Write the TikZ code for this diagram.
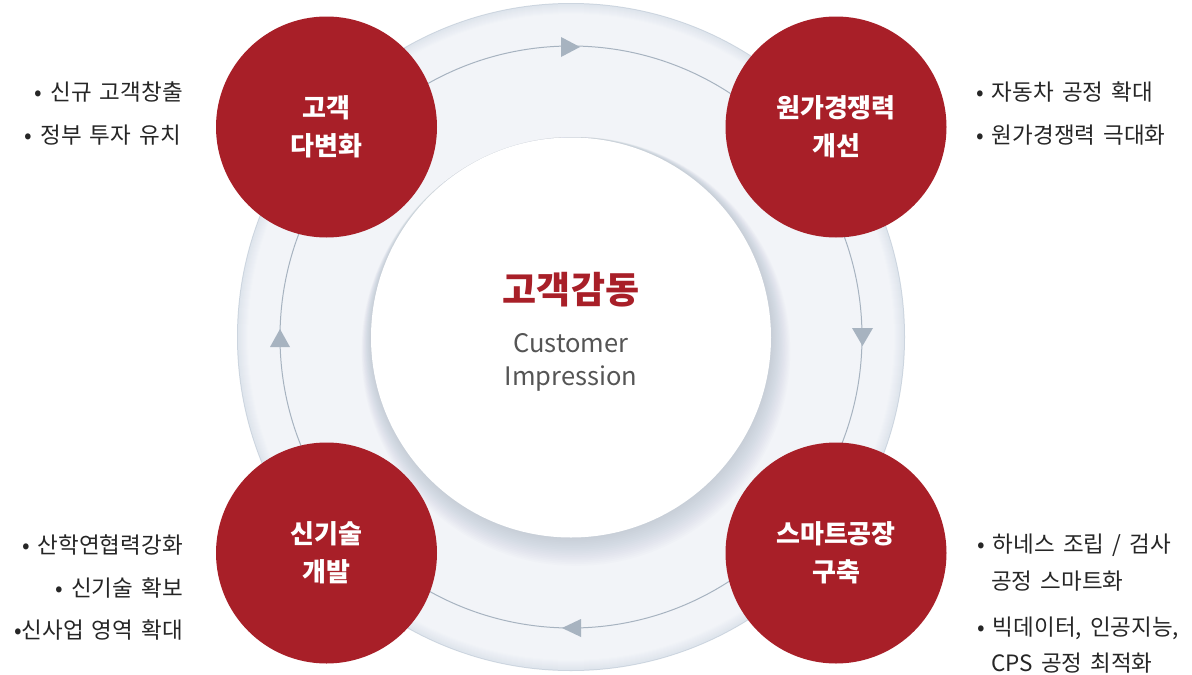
\documentclass[tikz,border=0pt]{standalone}
\usepackage{fontspec}
\setmainfont{Noto Sans CJK KR}
\newfontfamily\sidefont[WordSpace=1.6]{Noto Sans CJK KR}
\definecolor{cred}{HTML}{A81F28}
\definecolor{ringfill}{HTML}{F2F4F8}
\definecolor{ringedge}{HTML}{DFE5ED}
\definecolor{ringline}{HTML}{CCD5DF}
\definecolor{cycle}{HTML}{A7B3C0}
\definecolor{shadowc}{HTML}{8D9DB5}
\definecolor{txt}{HTML}{262626}
\definecolor{subtxt}{HTML}{555555}
\tikzset{
  redc/.style={circle, fill=cred, draw=none, minimum size=221pt, inner sep=0pt,
    text=white, align=center, font=\fontsize{26}{38}\selectfont\bfseries},
  sidetxt/.style={text=txt, inner sep=0pt, font=\sidefont\fontsize{22.5}{26}\selectfont},
  tri/.style={fill=cycle, draw=none},
}
\begin{document}
\begin{tikzpicture}[x=1pt,y=-1pt]
\useasboundingbox (0,0) rectangle (1192,675);
\fill[white] (0,0) rectangle (1192,675);
% outer ring disc with soft rim
\fill[ringline] (571,337) circle (334pt);
\foreach \i [evaluate=\i as \p using \i*10] in {0,...,10}
  \fill[ringfill!\p!ringedge] (571,337) circle ({(333-\i)*1pt});
% thin cycle circle
\draw[cycle, line width=1pt] (571,337) coordinate (ctr) circle (291pt);
% arrow heads on the cycle
\fill[tri] (561,37) -- (580,47) -- (561,57) -- cycle;
\fill[tri] (852,328) -- (873,328) -- (862.5,346) -- cycle;
\fill[tri] (581,619) -- (562,628) -- (581,637) -- cycle;
\fill[tri] (270,347) -- (290,347) -- (280,329) -- cycle;
% shadow of the white disc
\foreach \i in {1,...,16}
  \fill[shadowc, opacity=0.028] ({571+\i*0.3},{337+\i*0.9}) circle ({(200+\i*0.9)*1pt});
% white disc
\fill[white] (571,337.5) circle (200pt);
% center text
\node[text=cred, font=\fontsize{37}{40}\selectfont\bfseries] (title) at (571,290) {고객감동};
\node[text=subtxt, align=center, font=\fontsize{25.5}{33}\selectfont] (sub) at (571,362) {Customer\\Impression};
% red circles
\node[redc] (c1) at (326.5,127) {고객\\다변화};
\node[redc] (c2) at (836,127) {원가경쟁력\\개선};
\node[redc] (c3) at (326.5,553) {신기술\\개발};
\node[redc] (c4) at (836,553) {스마트공장\\구축};
% side texts
\node[sidetxt, anchor=east] (l1) at (183,92) {• 신규 고객창출};
\node[sidetxt, anchor=east] (l2) at (181,135) {• 정부 투자 유치};
\node[sidetxt, anchor=west] (r1) at (976,92) {• 자동차 공정 확대};
\node[sidetxt, anchor=west] (r2) at (976,135) {• 원가경쟁력 극대화};
\node[sidetxt, anchor=east] (b1) at (183,545) {• 산학연협력강화};
\node[sidetxt, anchor=east] (b2) at (183,588) {• 신기술 확보};
\node[sidetxt, anchor=east] (b3) at (183,630) {•신사업 영역 확대};
\node[sidetxt, anchor=west] (s1) at (977,545) {• 하네스 조립 / 검사};
\node[sidetxt, anchor=west] (s2) at (991,581) {공정 스마트화};
\node[sidetxt, anchor=west] (s3) at (977,628) {• 빅데이터, 인공지능,};
\node[sidetxt, anchor=west] (s4) at (991,663) {CPS 공정 최적화};
\end{tikzpicture}
\end{document}
